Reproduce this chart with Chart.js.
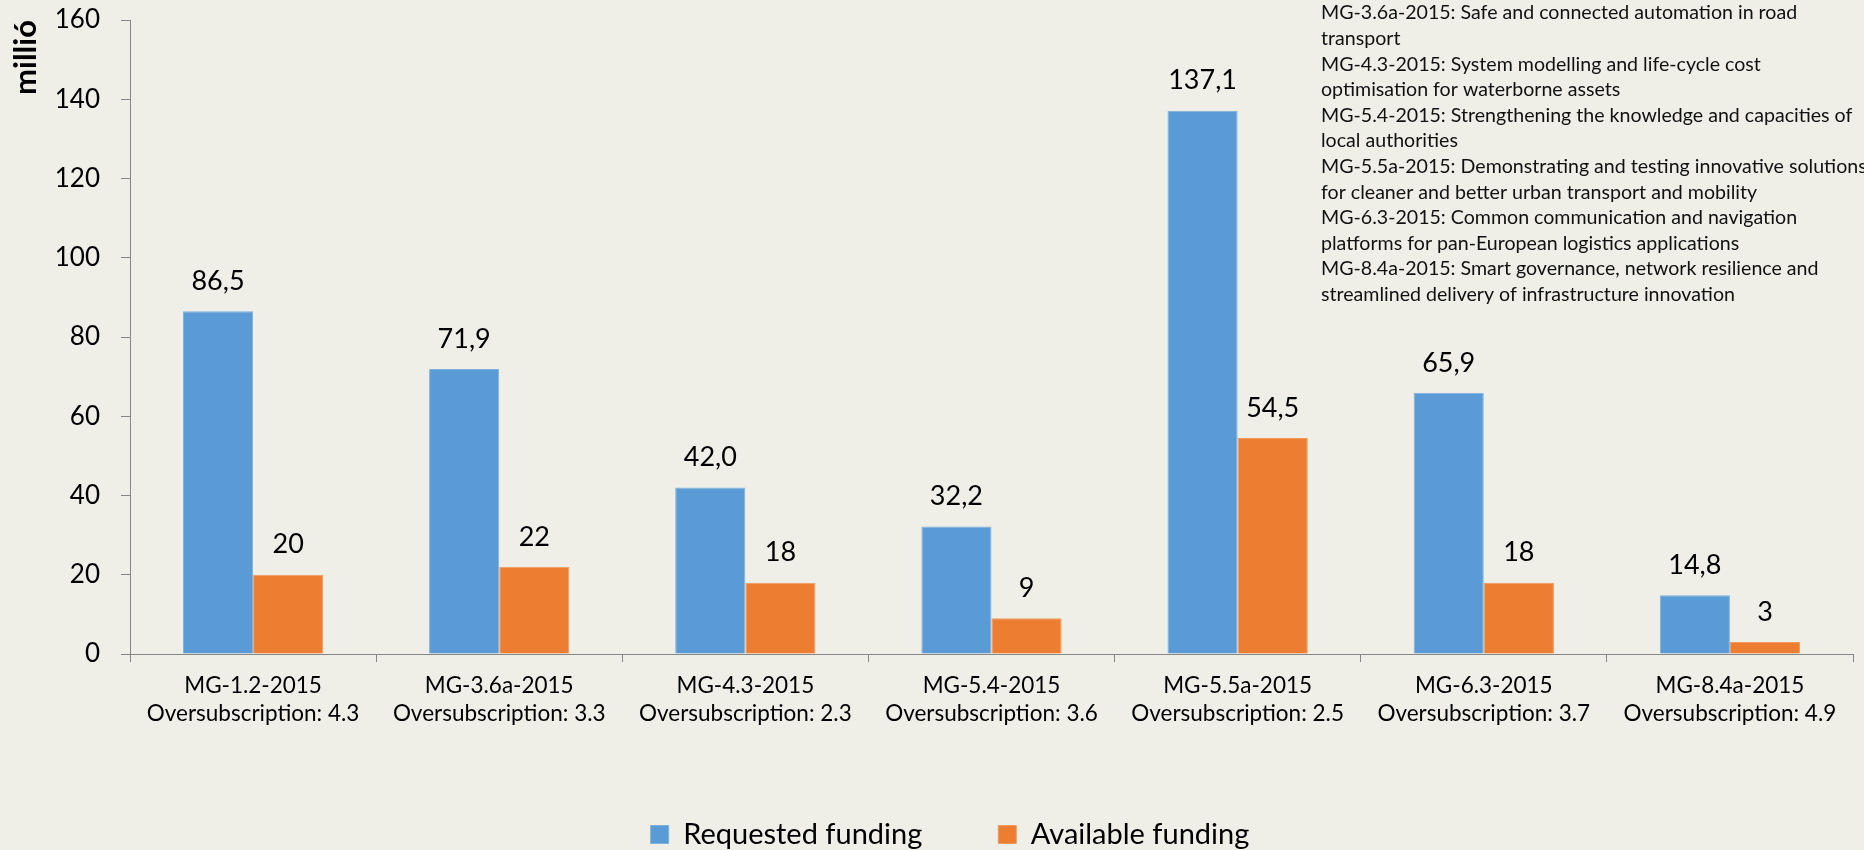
<!DOCTYPE html>
<html>
<head>
<meta charset="utf-8">
<script src="https://cdn.jsdelivr.net/npm/chart.js@4/dist/chart.umd.min.js"></script>
<style>
  html, body { margin: 0; padding: 0; background: #EFEFE7; }
  #wrap { width: 1864px; height: 850px; }
</style>
</head>
<body>
<div id="wrap"><canvas id="fundingChart" width="1864" height="850"></canvas></div>
<script>
// topics on the x axis
const topics = ['MG-1.2-2015', 'MG-3.6a-2015', 'MG-4.3-2015', 'MG-5.4-2015', 'MG-5.5a-2015', 'MG-6.3-2015', 'MG-8.4a-2015'];
const oversubscription = ['4.3', '3.3', '2.3', '3.6', '2.5', '3.7', '4.9'];

// millió EUR
const requestedFunding = [86.5, 71.9, 42.0, 32.2, 137.1, 65.9, 14.8];
const availableFunding = [20, 22, 18, 9, 54.5, 18, 3];

const yTicks = [0, 20, 40, 60, 80, 100, 120, 140, 160];

const topicNotes = [
    'MG-3.6a-2015: Safe and connected automation in road',
    'transport',
    'MG-4.3-2015: System modelling and life-cycle cost',
    'optimisation for waterborne assets',
    'MG-5.4-2015: Strengthening the knowledge and capacities of',
    'local authorities',
    'MG-5.5a-2015: Demonstrating and testing innovative solutions',
    'for cleaner and better urban transport and mobility',
    'MG-6.3-2015: Common communication and navigation',
    'platforms for pan-European logistics applications',
    'MG-8.4a-2015: Smart governance, network resilience and',
    'streamlined delivery of infrastructure innovation'
];

const FONT = 'Lato, "Open Sans", sans-serif';

function fmt(v, datasetIndex) {
    let s = datasetIndex === 0 ? v.toFixed(1) : String(v);
    return s.replace('.', ',');
}

// value labels above the bars
const valueLabels = {
    id: 'valueLabels',
    afterDatasetsDraw(chart) {
        const ctx = chart.ctx;
        ctx.save();
        ctx.font = '27px ' + FONT;
        ctx.fillStyle = '#000';
        ctx.textAlign = 'center';
        ctx.textBaseline = 'middle';
        chart.data.datasets.forEach(function (ds, i) {
            chart.getDatasetMeta(i).data.forEach(function (bar, j) {
                ctx.fillText(fmt(ds.data[j], i), bar.x, bar.y - 30);
            });
        });
        ctx.restore();
    }
};

// topic descriptions, top right
const notes = {
    id: 'notes',
    afterDraw(chart) {
        const ctx = chart.ctx;
        ctx.save();
        ctx.font = '19.6px ' + FONT;
        ctx.fillStyle = '#111';
        ctx.textAlign = 'left';
        ctx.textBaseline = 'middle';
        topicNotes.forEach(function (line, i) {
            ctx.fillText(line, 1321, 13 + i * 25.6);
        });
        ctx.restore();
    }
};

new Chart('fundingChart', {
    type: 'bar',
    data: {
        labels: topics.map(function (t, i) { return [t, 'Oversubscription: ' + oversubscription[i]]; }),
        datasets: [
            {
                label: 'Requested funding',
                data: requestedFunding,
                backgroundColor: '#5B9BD5',
                borderColor: '#7FB0DE',
                borderWidth: 1,
                categoryPercentage: 0.57,
                barPercentage: 1.0
            },
            {
                label: 'Available funding',
                data: availableFunding,
                backgroundColor: '#ED7D31',
                borderColor: '#F19A5E',
                borderWidth: 1,
                categoryPercentage: 0.57,
                barPercentage: 1.0
            }
        ]
    },
    options: {
        responsive: false,
        animation: false,
        layout: { padding: { left: 47, right: 11, top: 20, bottom: -9 } },
        plugins: {
            legend: {
                position: 'bottom',
                labels: {
                    boxWidth: 18,
                    boxHeight: 18,
                    padding: 76,
                    color: '#000',
                    font: { family: FONT, size: 29 }
                }
            },
            tooltip: { enabled: false },
            title: { display: false }
        },
        scales: {
            x: {
                grid: { drawOnChartArea: false, tickLength: 8, tickColor: '#868686' },
                border: { color: '#868686' },
                ticks: {
                    color: '#000',
                    padding: 10,
                    maxRotation: 0,
                    font: { family: FONT, size: 22.5, lineHeight: 1.24 }
                },
                afterFit: function (scale) { scale.height = 90; }
            },
            y: {
                min: 0,
                max: 160,
                afterBuildTicks: function (scale) {
                    scale.ticks = yTicks.map(function (v) { return { value: v }; });
                },
                grid: { drawOnChartArea: false, tickLength: 9, tickColor: '#868686' },
                border: { color: '#868686' },
                ticks: {
                    color: '#000',
                    padding: 21,
                    font: { family: FONT, size: 26 }
                },
                title: {
                    display: true,
                    text: 'millió',
                    align: 'end',
                    color: '#000',
                    padding: { top: -40, bottom: 0 },
                    font: { family: FONT, size: 31, weight: 'bold' }
                },
                afterFit: function (scale) {
                    scale.width = 83;
                    // labels may hang over the plot edges, like the original
                    scale.paddingTop = 0;
                    scale.paddingBottom = 0;
                }
            }
        }
    },
    plugins: [valueLabels, notes]
});
</script>
</body>
</html>
